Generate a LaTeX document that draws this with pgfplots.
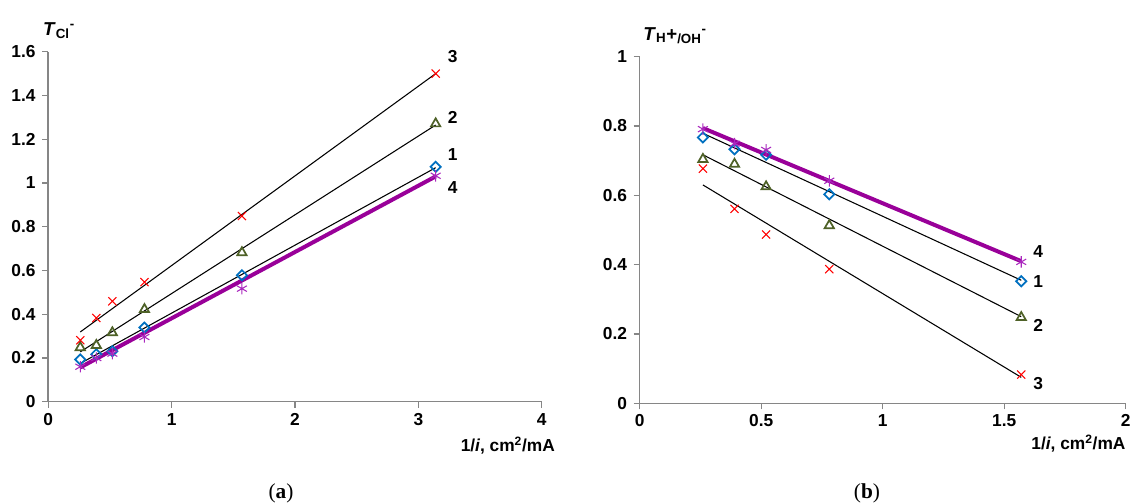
\documentclass[border=0pt]{standalone}
\usepackage{fontspec}
\setmainfont{Liberation Sans}
\newfontfamily\capfont{Liberation Serif}
\usepackage{pgfplots}
\pgfplotsset{compat=1.18}
\usetikzlibrary{plotmarks}
\definecolor{cblue}{RGB}{0,112,192}
\definecolor{cgreen}{RGB}{79,98,40}
\definecolor{cpurp}{RGB}{153,0,153}
\definecolor{cast}{RGB}{170,40,190}
\definecolor{axgray}{RGB}{134,134,134}
\newcommand{\lbl}{\fontsize{13}{15}\selectfont\bfseries}
\pgfplotsset{
  myaxis/.style={
    scale only axis, clip=false,
    anchor=south west,
    axis lines*=left,
    axis line style={axgray, line width=1.1pt},
    tick align=outside,
    major tick length=4.5pt,
    tick style={axgray, line width=0.9pt},
    /pgf/number format/assume math mode=true,
    tick label style={font=\lbl},
    xticklabel style={yshift=-0.5pt},
    yticklabel style={xshift=-1.5pt},
  },
  s1/.style={only marks, mark=square, mark size=2.7pt, draw=cblue, mark options={rotate=45, line width=1.3pt, fill=white}},
  s2/.style={only marks, mark=triangle, mark size=4pt, draw=cgreen, mark options={line width=1.3pt, fill=white}},
  s3/.style={only marks, mark=x, mark size=4.3pt, draw=red, mark options={line width=0.8pt}},
  s4/.style={only marks, mark=asterisk, mark size=4.3pt, draw=cast, mark options={line width=0.8pt}},
  tl/.style={no marks, black, line width=0.8pt},
  tl4/.style={no marks, cpurp, line width=3pt},
}
\begin{document}
\begin{tikzpicture}
\path[use as bounding box] (0pt,0pt) rectangle (848.25pt,-377.25pt);
% ---------- (a)
\begin{axis}[myaxis,
  at={(36.15pt,-301.3pt)},
  width=370.2pt, height=262.5pt,
  xmin=0, xmax=4, ymin=0, ymax=1.6,
  xtick={0,1,2,3,4},
  ytick={0,0.2,0.4,0.6,0.8,1,1.2,1.4,1.6},
]
\addplot[s1] coordinates {(0.26,0.193) (0.39,0.217) (0.52,0.231) (0.78,0.339) (1.57,0.578) (3.14,1.074)};
\addplot[s2] coordinates {(0.26,0.248) (0.39,0.258) (0.52,0.316) (0.78,0.422) (1.57,0.682) (3.14,1.271)};
\addplot[s3] coordinates {(0.26,0.281) (0.39,0.383) (0.52,0.459) (0.78,0.547) (1.57,0.849) (3.14,1.500)};
\addplot[s4] coordinates {(0.26,0.160) (0.39,0.200) (0.52,0.220) (0.78,0.296) (1.57,0.517) (3.14,1.033)};
\addplot[tl] coordinates {(0.26,0.319) (3.14,1.500)};
\addplot[tl] coordinates {(0.26,0.228) (3.14,1.265)};
\addplot[tl] coordinates {(0.26,0.175) (3.14,1.070)};
\addplot[tl4] coordinates {(0.26,0.157) (3.14,1.030)};
\node[anchor=west, font=\lbl] at (axis cs:3.20,1.58) {3};
\node[anchor=west, font=\lbl] at (axis cs:3.20,1.30) {2};
\node[anchor=west, font=\lbl] at (axis cs:3.20,1.13) {1};
\node[anchor=west, font=\lbl] at (axis cs:3.20,0.98) {4};
\node[anchor=base west, inner sep=0pt, font=\fontsize{14}{16}\selectfont\bfseries] at ([xshift=-4pt,yshift=12.5pt]rel axis cs:0,1) {\textit{T}\textsubscript{\fontsize{10}{11}\selectfont Cl}\textsuperscript{\fontsize{10}{11}\selectfont -}};
\node[anchor=east, inner sep=0pt, font=\lbl] at ([xshift=10pt,yshift=-33pt]rel axis cs:1,0) {1/\textit{i}, cm\textsuperscript{2}/mA};
\end{axis}
% ---------- (b)
\begin{axis}[myaxis,
  at={(479.8pt,-302.5pt)},
  width=364.5pt, height=260pt,
  xmin=0, xmax=2, ymin=0, ymax=1,
  xtick={0,0.5,1,1.5,2},
  ytick={0,0.2,0.4,0.6,0.8,1},
]
\addplot[s1] coordinates {(0.26,0.767) (0.39,0.733) (0.52,0.717) (0.78,0.603) (1.57,0.352)};
\addplot[s2] coordinates {(0.26,0.704) (0.39,0.690) (0.52,0.625) (0.78,0.513) (1.57,0.248)};
\addplot[s3] coordinates {(0.26,0.677) (0.39,0.561) (0.52,0.487) (0.78,0.387) (1.57,0.083)};
\addplot[s4] coordinates {(0.26,0.791) (0.39,0.749) (0.52,0.731) (0.78,0.642) (1.57,0.408)};
\addplot[tl] coordinates {(0.26,0.779) (1.57,0.355)};
\addplot[tl] coordinates {(0.26,0.717) (1.57,0.250)};
\addplot[tl] coordinates {(0.26,0.630) (1.57,0.075)};
\addplot[tl4] coordinates {(0.26,0.794) (1.57,0.410)};
\node[anchor=west, font=\lbl] at (axis cs:1.60,0.437) {4};
\node[anchor=west, font=\lbl] at (axis cs:1.60,0.350) {1};
\node[anchor=west, font=\lbl] at (axis cs:1.60,0.226) {2};
\node[anchor=west, font=\lbl] at (axis cs:1.60,0.058) {3};
\node[anchor=base west, inner sep=0pt, font=\fontsize{14}{16}\selectfont\bfseries] at ([xshift=2.5pt,yshift=12.5pt]rel axis cs:0,1) {\textit{T}\textsubscript{\fontsize{10}{11}\selectfont H}+\textsubscript{\fontsize{10}{11}\selectfont /OH}\textsuperscript{\fontsize{10}{11}\selectfont -}};
\node[anchor=east, inner sep=0pt, font=\lbl] at ([xshift=0pt,yshift=-30pt]rel axis cs:1,0) {1/\textit{i}, cm\textsuperscript{2}/mA};
\end{axis}
\node[font=\capfont\fontsize{16}{18}\selectfont] at (210.75pt,-369.75pt) {(\textbf{a})};
\node[font=\capfont\fontsize{16}{18}\selectfont] at (650.25pt,-369.75pt) {(\textbf{b})};
\end{tikzpicture}
\end{document}
